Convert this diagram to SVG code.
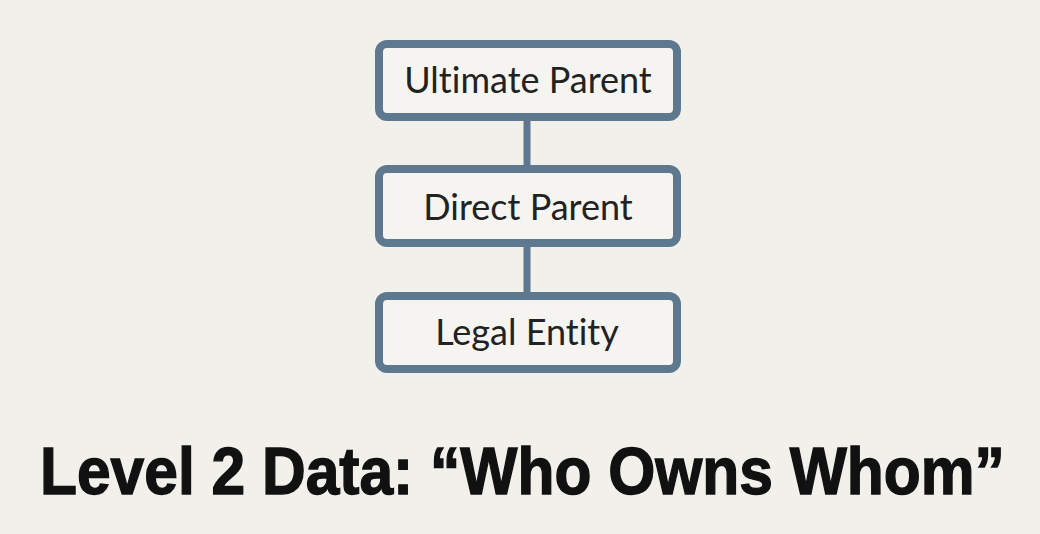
<svg xmlns="http://www.w3.org/2000/svg" width="1040" height="534" viewBox="0 0 1040 534">
<style>
.box{fill:#f5f4f0;stroke:#5e7890;stroke-width:8}
.lbl{font-family:Lato,"Open Sans",sans-serif;font-size:36px;fill:#222;text-anchor:middle;font-variant-ligatures:none}
.conn{stroke:#5e7890;stroke-width:7;fill:none}
.title{font-family:"Liberation Sans",Arial,sans-serif;font-weight:bold;font-size:67px;fill:#111;stroke:#111;stroke-width:1.4}
</style>
<rect width="1040" height="534" fill="#f1f0eb"/>
<g id="connectors">
<line class="conn" x1="527" y1="121" x2="527" y2="165"/>
<line class="conn" x1="527" y1="247" x2="527" y2="292"/>
</g>
<g id="ultimate-parent">
<rect class="box" x="379" y="44" width="298" height="73" rx="8"/>
<text class="lbl" x="528" y="93">Ultimate Parent</text>
</g>
<g id="direct-parent">
<rect class="box" x="379" y="169" width="298" height="74" rx="8"/>
<text class="lbl" x="528" y="220">Direct Parent</text>
</g>
<g id="legal-entity">
<rect class="box" x="379" y="296" width="298" height="73" rx="8"/>
<text class="lbl" x="527" y="345">Legal Entity</text>
</g>
<text class="title" transform="translate(40,494) scale(0.85,1)" x="0" y="0" textLength="1135" lengthAdjust="spacingAndGlyphs">Level 2 Data: “Who Owns Whom”</text>
</svg>
